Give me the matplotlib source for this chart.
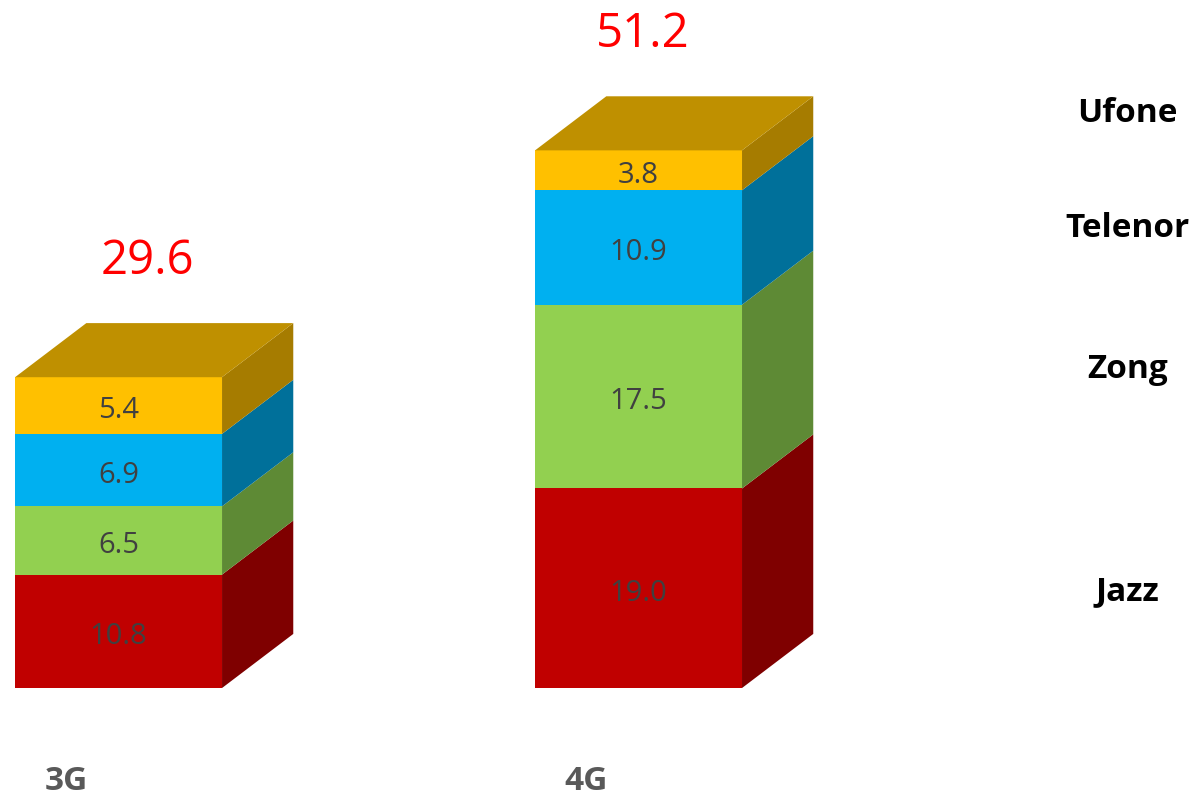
import matplotlib
matplotlib.use("Agg")
import matplotlib.pyplot as plt
from matplotlib.patches import Polygon

plt.rcParams['font.family'] = ['Open Sans', 'DejaVu Sans']

# data
categories = ['3G', '4G']
operators = ['Jazz', 'Zong', 'Telenor', 'Ufone']
values = {
    'Jazz':    [10.8, 19.0],
    'Zong':    [6.5, 17.5],
    'Telenor': [6.9, 10.9],
    'Ufone':   [5.4, 3.8],
}
totals = [29.6, 51.2]

# style
front = {'Jazz': '#C00000', 'Zong': '#92D050', 'Telenor': '#00B0F0', 'Ufone': '#FFC000'}
side = {'Jazz': '#7F0000', 'Zong': '#5E8A35', 'Telenor': '#00709A', 'Ufone': '#A67C00'}
top_color = '#BF9000'
width = 0.398      # bar width in category units
dx, dy = 0.137, 5.15   # depth offset (x in category units, y in value units)
legend_y = [9.2, 30.3, 43.8, 54.7]
total_dx = [0.055, 0.009]

fig = plt.figure(figsize=(11.97, 8.01), dpi=100)
ax = fig.add_axes([0, 0, 1, 1])
ax.set_xlim(-0.228, 2.074)
ax.set_ylim(-10.76, 65.52)
ax.axis('off')

for i, cat in enumerate(categories):
    x0 = i - width / 2
    x1 = i + width / 2
    base = 0.0
    for op in operators:
        v = values[op][i]
        y0, y1 = base, base + v
        ax.add_patch(Polygon([(x0, y0), (x1, y0), (x1, y1), (x0, y1)],
                             closed=True, facecolor=front[op], edgecolor='none'))
        ax.add_patch(Polygon([(x1, y0), (x1 + dx, y0 + dy), (x1 + dx, y1 + dy), (x1, y1)],
                             closed=True, facecolor=side[op], edgecolor='none'))
        ax.text(i, (y0 + y1) / 2 - 0.5, f'{v:.1f}', ha='center', va='center',
                fontsize=21, color='#404040')
        base = y1
    # top face
    ax.add_patch(Polygon([(x0, base), (x1, base), (x1 + dx, base + dy), (x0 + dx, base + dy)],
                         closed=True, facecolor=top_color, edgecolor='none'))
    ax.text(i + total_dx[i], totals[i] + dy + 5.9, f'{totals[i]:.1f}', ha='center', va='center',
            fontsize=34, color='#FF0000')
    ax.text(i - 0.1, -9.75, cat, ha='center', va='baseline', fontsize=24,
            fontweight='bold', color='#595959')

for op, yy in zip(operators, legend_y):
    ax.text(1.94, yy, op, ha='center', va='center', fontsize=24,
            fontweight='bold', color='black')

fig.savefig('out.png', dpi=100)
